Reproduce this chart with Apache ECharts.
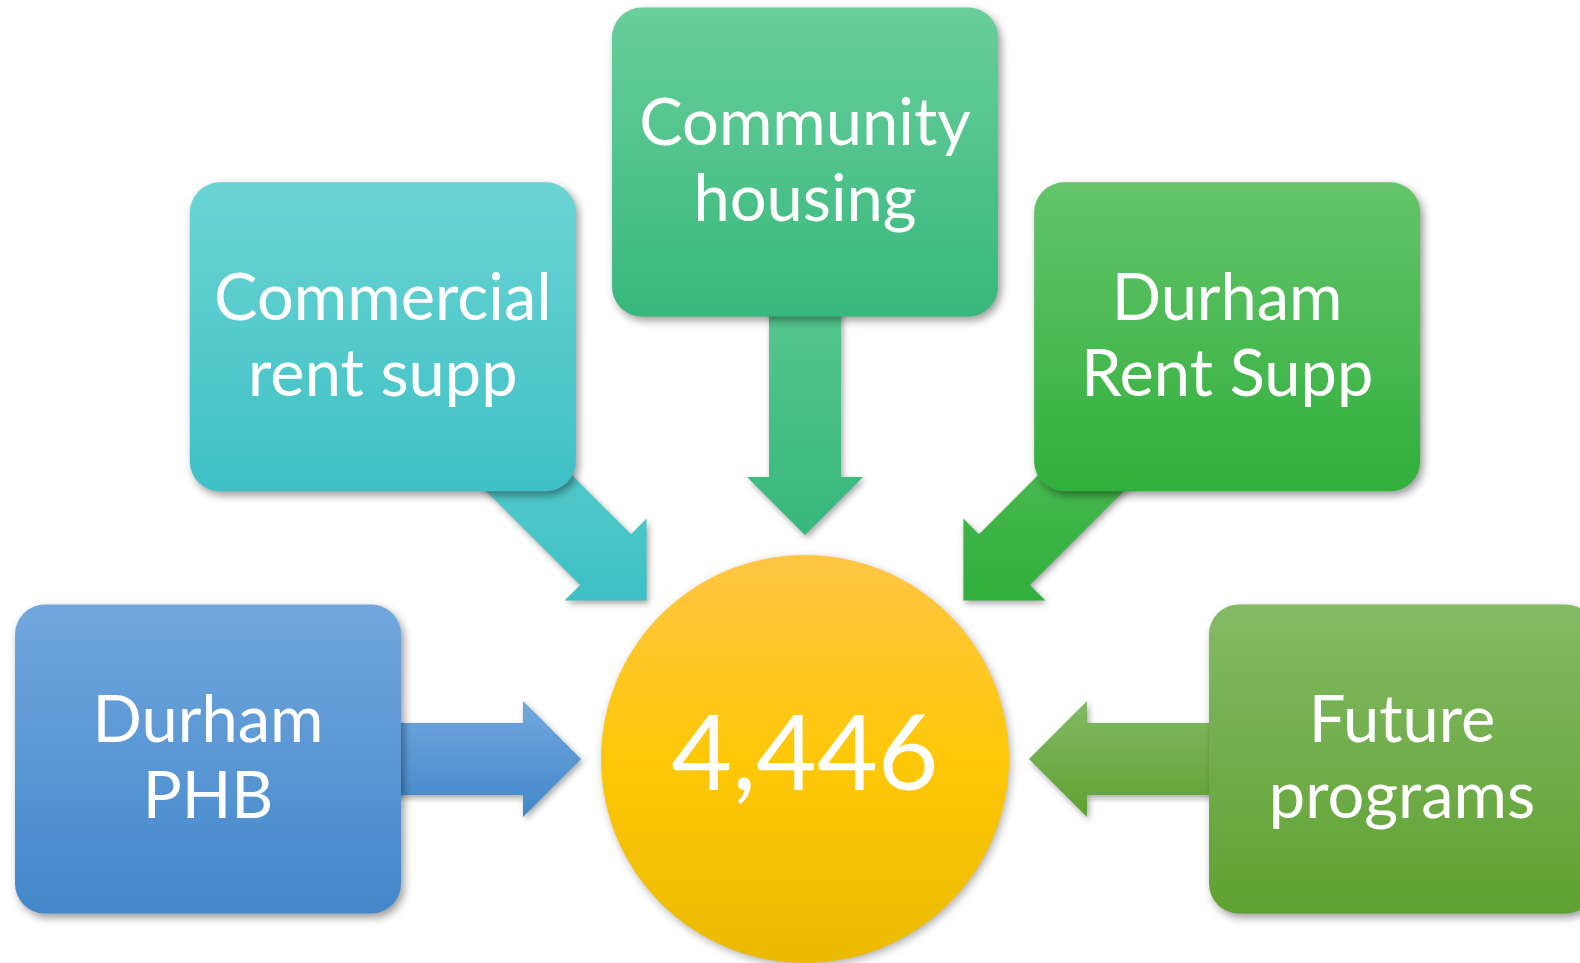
<!DOCTYPE html>
<html>
<head>
<meta charset="utf-8">
<title>Durham housing programs</title>
<script src="https://cdn.jsdelivr.net/npm/echarts@6/dist/echarts.min.js"></script>
<style>
  html, body { margin: 0; padding: 0; background: #fff; }
  #chart { width: 1580px; height: 963px; }
</style>
</head>
<body>
<div id="chart"></div>
<script>
// programs that add up to the total
const programs = ["Durham\nPHB", "Commercial\nrent supp", "Community\nhousing", "Durham\nRent Supp", "Future\nprograms"];
const totalUnits = 4446;

// layout: where each program sits round the circle (0 = left, clockwise, degrees)
const slotAngles = [0, 45, 90, 135, 180];
const boxRadius = 597; // box centre distance from circle centre, px
const tipRadius = 224; // arrow tip distance
const boxW = 386;
const boxH = 309;

// top / bottom colours of each box and arrow
const palette = [
  ["#71A7DE", "#4387CA"],
  ["#6BD4D4", "#3EC0C4"],
  ["#69CE9B", "#37B87D"],
  ["#64C46B", "#31AF3B"],
  ["#84BA65", "#5FA131"],
];

const chart = echarts.init(document.getElementById("chart"));

const grad = (c) =>
  new echarts.graphic.LinearGradient(0, 0, 0, 1, [
    { offset: 0, color: c[0] },
    { offset: 1, color: c[1] },
  ]);

const renderArrow = (params, api) => {
  const i = params.dataIndex;
  const from = api.coord([api.value(0), api.value(2)]);
  const to = api.coord([api.value(1), api.value(2)]);
  const dx = to[0] - from[0];
  const dy = to[1] - from[1];
  const len = Math.hypot(dx, dy);
  const ux = dx / len, uy = dy / len;
  const nx = -uy, ny = ux;
  const headLen = 58, headHalf = 58, shaftHalf = 36;
  const bx = to[0] - ux * headLen, by = to[1] - uy * headLen;
  const pts = [
    [from[0] + nx * shaftHalf, from[1] + ny * shaftHalf],
    [bx + nx * shaftHalf, by + ny * shaftHalf],
    [bx + nx * headHalf, by + ny * headHalf],
    to,
    [bx - nx * headHalf, by - ny * headHalf],
    [bx - nx * shaftHalf, by - ny * shaftHalf],
    [from[0] - nx * shaftHalf, from[1] - ny * shaftHalf],
  ];
  return {
    type: "polygon",
    shape: { points: pts },
    style: {
      fill: grad(palette[i]),
      shadowBlur: 6,
      shadowOffsetX: 2,
      shadowOffsetY: 3,
      shadowColor: "rgba(0,0,0,0.35)",
    },
  };
};

const renderBox = (params, api) => {
  const i = params.dataIndex;
  const c = api.coord([api.value(0), api.value(1)]);
  return {
    type: "group",
    children: [
      {
        type: "rect",
        shape: { x: c[0] - boxW / 2, y: c[1] - boxH / 2, width: boxW, height: boxH, r: 30 },
        style: {
          fill: grad(palette[i]),
          shadowBlur: 8,
          shadowOffsetX: 3,
          shadowOffsetY: 4,
          shadowColor: "rgba(0,0,0,0.4)",
        },
      },
      {
        type: "text",
        x: c[0],
        y: c[1],
        style: {
          text: programs[i],
          fill: "#fff",
          fontSize: 65,
          fontFamily: "Lato",
          align: "center",
          verticalAlign: "middle",
          lineHeight: 76,
        },
      },
    ],
  };
};

const option = {
  animation: false,
  polar: { center: [805, 759], radius: 700 },
  radiusAxis: { type: "value", min: 0, max: 700, show: false },
  angleAxis: { type: "value", min: 0, max: 360, startAngle: 180, clockwise: true, show: false },
  series: [
    {
      type: "custom",
      name: "arrows",
      coordinateSystem: "polar",
      renderItem: renderArrow,
      data: slotAngles.map((a) => [boxRadius, tipRadius, a]),
      z: 1,
    },
    {
      type: "custom",
      name: "programs",
      coordinateSystem: "polar",
      renderItem: renderBox,
      data: slotAngles.map((a) => [boxRadius, a]),
      z: 2,
    },
    {
      type: "scatter",
      name: "total",
      coordinateSystem: "polar",
      data: [[0, 0, totalUnits]],
      symbol: "circle",
      symbolSize: 408,
      z: 3,
      itemStyle: {
        opacity: 1,
        color: new echarts.graphic.LinearGradient(0, 0, 0, 1, [
          { offset: 0, color: "#FFC544" },
          { offset: 0.5, color: "#FEC808" },
          { offset: 1, color: "#EBBA00" },
        ]),
        shadowBlur: 8,
        shadowOffsetX: 2,
        shadowOffsetY: 3,
        shadowColor: "rgba(0,0,0,0.3)",
      },
      label: {
        show: true,
        position: "inside",
        color: "#fff",
        fontSize: 105,
        fontFamily: "Lato",
        offset: [0, -3],
        formatter: (p) => p.value[2].toLocaleString("en-US"),
      },
      emphasis: { disabled: true },
    },
  ],
};

chart.setOption(option);
</script>
</body>
</html>
